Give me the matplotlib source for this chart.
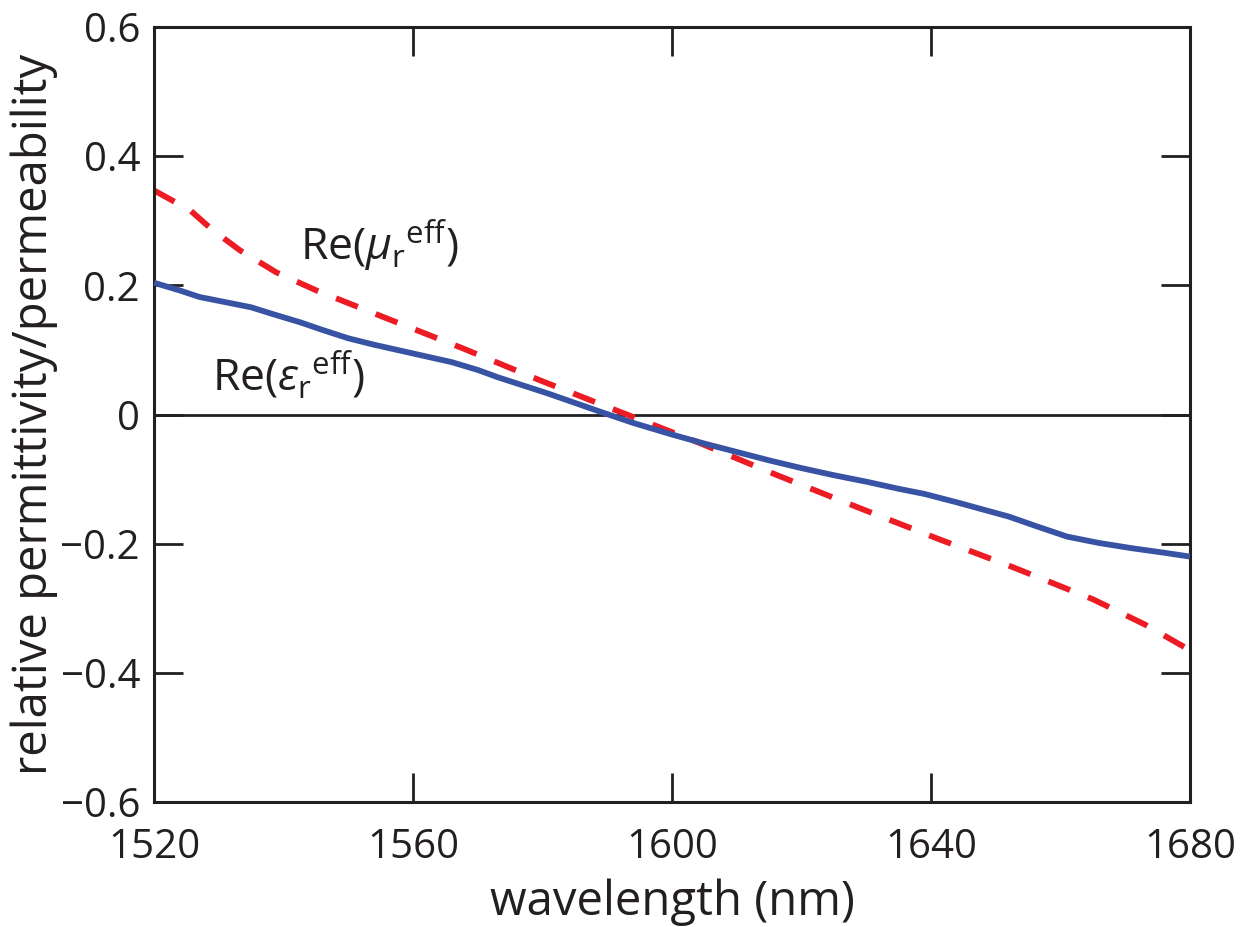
import matplotlib
matplotlib.use("Agg")
import matplotlib.pyplot as plt

plt.rcParams['font.family'] = ['Open Sans', 'DejaVu Sans']
plt.rcParams['mathtext.fontset'] = 'custom'
plt.rcParams['mathtext.rm'] = 'Open Sans'
plt.rcParams['mathtext.it'] = 'Open Sans:italic'

eps_wl = [1520, 1524, 1527, 1531, 1535, 1538.5, 1542.5, 1546, 1550, 1554, 1558, 1562, 1566,
          1570, 1573, 1577, 1581, 1585, 1589, 1594, 1600, 1605, 1610, 1615, 1620, 1625,
          1630, 1635, 1639, 1644, 1648, 1652, 1656, 1661, 1666, 1671, 1676, 1680]
eps_re = [0.204, 0.192, 0.182, 0.174, 0.166, 0.155, 0.143, 0.131, 0.118, 0.108, 0.099,
          0.090, 0.081, 0.069, 0.058, 0.045, 0.032, 0.018, 0.004, -0.013, -0.031, -0.045,
          -0.058, -0.071, -0.083, -0.094, -0.104, -0.115, -0.123, -0.136, -0.147, -0.158,
          -0.172, -0.189, -0.199, -0.207, -0.214, -0.220]

mu_wl = [1520, 1525.6, 1529, 1533.3, 1538.9, 1545.1, 1555.4, 1567.8, 1579.6, 1592,
         1604, 1616, 1628.5, 1640.7, 1652.8, 1665, 1673, 1680]
mu_re = [0.347, 0.316, 0.286, 0.254, 0.220, 0.192, 0.151, 0.102, 0.053, 0.004,
         -0.043, -0.093, -0.143, -0.191, -0.237, -0.286, -0.325, -0.365]

xticks = [1520, 1560, 1600, 1640, 1680]
yticks = [-0.6, -0.4, -0.2, 0, 0.2, 0.4, 0.6]
ytick_labels = ['\u22120.6', '\u22120.4', '\u22120.2', '0', '0.2', '0.4', '0.6']

fig = plt.figure(figsize=(12.44, 9.27), dpi=100)
ax = fig.add_axes([0.1238, 0.1348, 0.8328, 0.8361])

ax.axhline(0, color='#231f20', lw=2.0, zorder=1)
ax.plot(eps_wl, eps_re, color='#3953a4', lw=4.2, solid_capstyle='butt',
        solid_joinstyle='round', zorder=3)
ax.plot(mu_wl, mu_re, color='#ed1c24', lw=4.2, dashes=(4.0, 3.3), zorder=2)

ax.set_xlim(1520, 1680)
ax.set_ylim(-0.6, 0.6)
ax.set_xticks(xticks)
ax.set_xticklabels([str(t) for t in xticks])
ax.set_yticks(yticks)
ax.set_yticklabels(ytick_labels)
ax.tick_params(direction='in', length=21, width=2, top=True, right=True,
               labelsize=29, colors='#231f20')
ax.tick_params(axis='x', pad=18)
ax.tick_params(axis='y', pad=10)
for s in ax.spines.values():
    s.set_linewidth(2.2)
    s.set_color('#231f20')

ax.set_xlabel('wavelength (nm)', fontsize=34, color='#231f20', labelpad=8)
ax.set_ylabel('relative permittivity/permeability', fontsize=34, color='#231f20', labelpad=2)

ax.text(1542.5, 0.24, r'Re($\mu_{\mathrm{r}}{}^{\mathrm{eff}}$)', fontsize=32, color='#231f20')
ax.text(1529, 0.038, r'Re($\varepsilon_{\mathrm{r}}{}^{\mathrm{eff}}$)', fontsize=32, color='#231f20')

fig.savefig('out.png', dpi=100)
